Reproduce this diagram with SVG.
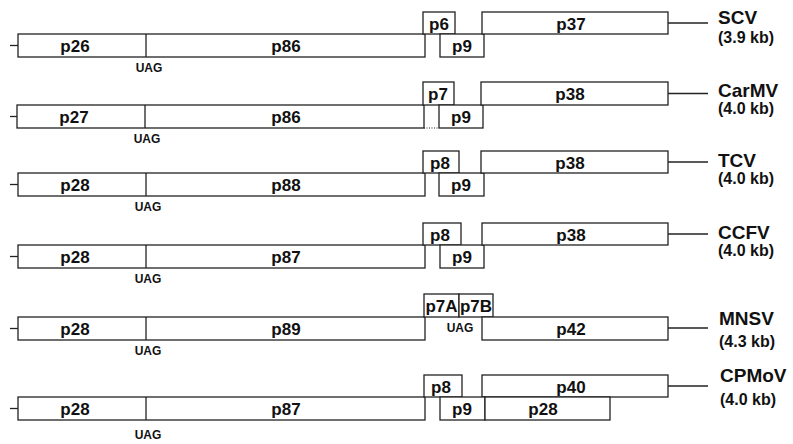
<svg xmlns="http://www.w3.org/2000/svg" width="793" height="444" viewBox="0 0 793 444">
<style>
  rect, line { fill: none; stroke: #222; stroke-width: 1.3; }
  rect { fill: #fff; }
  .dot { stroke-dasharray: 1 1.5; stroke-width: 1; }
  text { font-family: "Liberation Sans", Arial, sans-serif; font-weight: bold; fill: #111; text-anchor: middle; }
  .p { font-size: 17px; }
  .u { font-size: 12px; }
  .n { font-size: 19px; text-anchor: start; }
  .k { font-size: 16px; text-anchor: start; }
</style>

<g id="connectors">
  <line x1="10" y1="45.5" x2="18" y2="45.5"/>
  <line x1="668" y1="23" x2="708" y2="23"/>
  <line x1="10" y1="116.5" x2="17" y2="116.5"/>
  <line x1="668" y1="93.5" x2="708" y2="93.5"/>
  <line x1="10" y1="184.5" x2="18" y2="184.5"/>
  <line x1="668" y1="162" x2="708" y2="162"/>
  <line x1="10" y1="256.5" x2="18" y2="256.5"/>
  <line x1="668" y1="234" x2="708" y2="234"/>
  <line x1="10" y1="328.5" x2="18" y2="328.5"/>
  <line x1="668" y1="328" x2="708" y2="328"/>
  <line x1="10" y1="408.5" x2="18" y2="408.5"/>
  <line x1="668" y1="386" x2="708" y2="386"/>
</g>

<g id="SCV">
  <rect x="18" y="34" width="407" height="23"/>
  <line x1="146" y1="34" x2="146" y2="57"/>
  <rect x="423" y="12" width="32" height="22"/>
  <rect x="440" y="34" width="44" height="23"/>
  <rect x="482" y="12" width="186" height="22"/>
  <text class="p" x="75" y="52">p26</text>
  <text class="p" x="286" y="52">p86</text>
  <text class="u" x="149" y="72">UAG</text>
  <text class="p" x="439" y="30">p6</text>
  <text class="p" x="462" y="52">p9</text>
  <text class="p" x="571" y="30">p37</text>
  <text class="n" x="718" y="24">SCV</text>
  <text class="k" x="718" y="43">(3.9 kb)</text>
</g>

<g id="CarMV">
  <rect x="17" y="105" width="407" height="23"/>
  <line x1="145" y1="105" x2="145" y2="128"/>
  <line class="dot" x1="424" y1="128" x2="439" y2="128"/>
  <rect x="423" y="82" width="31" height="23"/>
  <rect x="439" y="105" width="44" height="23"/>
  <rect x="481" y="82" width="187" height="23"/>
  <text class="p" x="74" y="123">p27</text>
  <text class="p" x="286" y="123">p86</text>
  <text class="u" x="147" y="143">UAG</text>
  <text class="p" x="438" y="100">p7</text>
  <text class="p" x="461" y="123">p9</text>
  <text class="p" x="570" y="100">p38</text>
  <text class="n" x="718" y="97">CarMV</text>
  <text class="k" x="718" y="114">(4.0 kb)</text>
</g>

<g id="TCV">
  <rect x="18" y="173" width="407" height="23"/>
  <line x1="146" y1="173" x2="146" y2="196"/>
  <rect x="423" y="151" width="36" height="22"/>
  <rect x="439" y="173" width="45" height="23"/>
  <rect x="481" y="151" width="187" height="22"/>
  <text class="p" x="75" y="191">p28</text>
  <text class="p" x="286" y="191">p88</text>
  <text class="u" x="148" y="211">UAG</text>
  <text class="p" x="440" y="169">p8</text>
  <text class="p" x="461" y="191">p9</text>
  <text class="p" x="570" y="169">p38</text>
  <text class="n" x="718" y="167">TCV</text>
  <text class="k" x="718" y="184">(4.0 kb)</text>
</g>

<g id="CCFV">
  <rect x="18" y="245" width="407" height="23"/>
  <line x1="146" y1="245" x2="146" y2="268"/>
  <rect x="423" y="223" width="38" height="22"/>
  <rect x="440" y="245" width="44" height="23"/>
  <rect x="482" y="223" width="186" height="22"/>
  <text class="p" x="75" y="263">p28</text>
  <text class="p" x="286" y="263">p87</text>
  <text class="u" x="148" y="283">UAG</text>
  <text class="p" x="440" y="241">p8</text>
  <text class="p" x="462" y="263">p9</text>
  <text class="p" x="571" y="241">p38</text>
  <text class="n" x="718" y="239">CCFV</text>
  <text class="k" x="718" y="256">(4.0 kb)</text>
</g>

<g id="MNSV">
  <rect x="18" y="317" width="407" height="23"/>
  <line x1="146" y1="317" x2="146" y2="340"/>
  <rect x="424" y="294" width="35" height="23"/>
  <rect x="459" y="294" width="34" height="23"/>
  <rect x="482" y="317" width="186" height="23"/>
  <text class="p" x="75" y="335">p28</text>
  <text class="p" x="286" y="335">p89</text>
  <text class="u" x="148" y="355">UAG</text>
  <text class="u" x="460" y="332">UAG</text>
  <text class="p" x="441.5" y="312">p7A</text>
  <text class="p" x="476" y="312">p7B</text>
  <text class="p" x="571" y="335">p42</text>
  <text class="n" x="719" y="325">MNSV</text>
  <text class="k" x="719" y="347">(4.3 kb)</text>
</g>

<g id="CPMoV">
  <rect x="18" y="397" width="407" height="23"/>
  <line x1="146" y1="397" x2="146" y2="420"/>
  <rect x="424" y="375" width="38" height="22"/>
  <rect x="482" y="375" width="186" height="22"/>
  <rect x="440" y="397" width="45" height="23"/>
  <rect x="485" y="397" width="125" height="23"/>
  <text class="p" x="75" y="415">p28</text>
  <text class="p" x="286" y="415">p87</text>
  <text class="u" x="148" y="439">UAG</text>
  <text class="p" x="441" y="393">p8</text>
  <text class="p" x="462" y="415">p9</text>
  <text class="p" x="543" y="415">p28</text>
  <text class="p" x="571" y="393">p40</text>
  <text class="n" x="720" y="382">CPMoV</text>
  <text class="k" x="720" y="405">(4.0 kb)</text>
</g>
</svg>
